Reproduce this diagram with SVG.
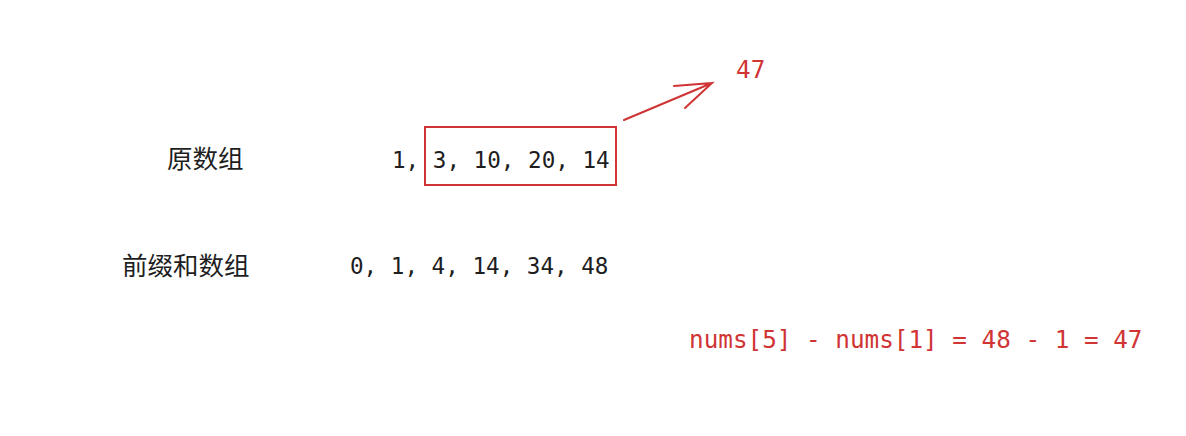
<svg xmlns="http://www.w3.org/2000/svg" width="1186" height="436" viewBox="0 0 1186 436">
<style>
.cn{font-family:"Noto Sans CJK SC","Noto Sans",sans-serif;font-size:25.5px;fill:#1e1e1e}
.num{font-family:"DejaVu Sans Mono","Liberation Mono",monospace;font-size:22.6px;fill:#1e1e1e}
.red{font-family:"DejaVu Sans Mono","Liberation Mono",monospace;font-size:24.3px;fill:#d03434}
.rs{fill:none;stroke:#d03434;stroke-width:2;stroke-linecap:round}
</style>
<rect width="1186" height="436" fill="#ffffff"/>
<g id="label-original"><text class="cn" x="167" y="168">原数组</text></g>
<g id="label-prefix"><text class="cn" x="122" y="275">前缀和数组</text></g>
<g id="original-array"><text class="num" x="392" y="168">1, 3, 10, 20, 14</text></g>
<g id="prefix-array"><text class="num" x="350" y="274">0, 1, 4, 14, 34, 48</text></g>
<g id="highlight-box"><rect class="rs" x="425" y="127" width="191" height="58"/></g>
<g id="result"><text class="red" x="736" y="78">47</text></g>
<g id="formula"><text class="red" x="689" y="348">nums[5] - nums[1] = 48 - 1 = 47</text></g>
<g id="connectors">
<path class="rs" d="M624,120 L712,83 M674,86 L712,83 L685,108"/>
</g>
</svg>
